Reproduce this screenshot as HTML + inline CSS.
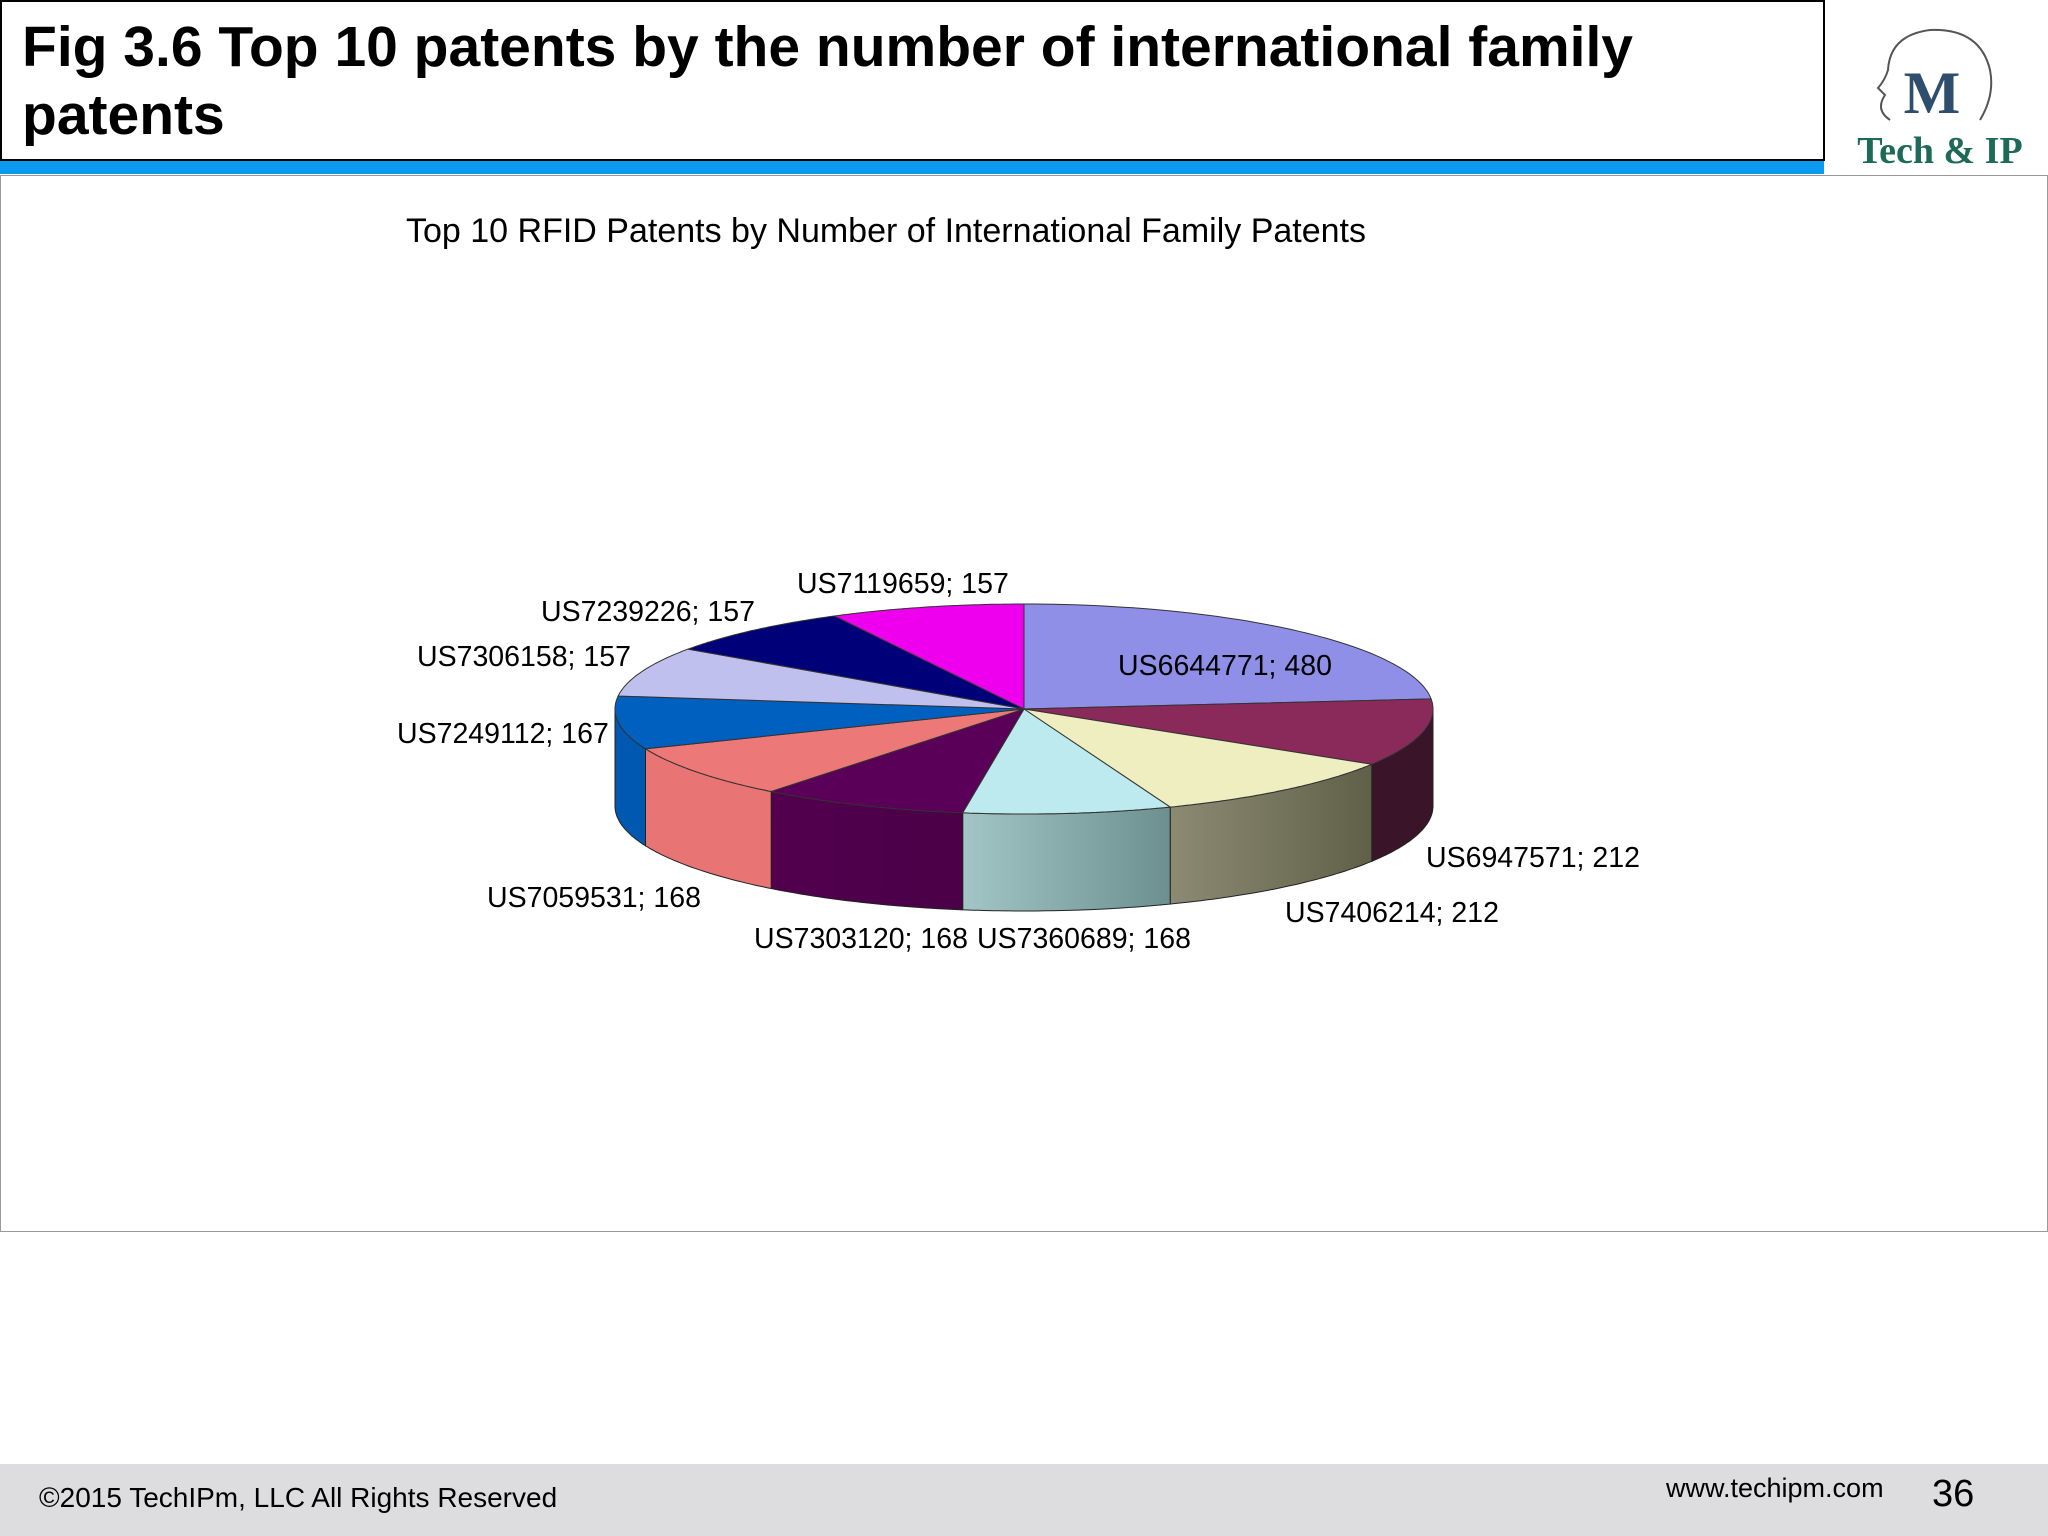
<!DOCTYPE html>
<html><head><meta charset="utf-8"><style>
body{margin:0;width:2048px;height:1536px;position:relative;background:#fff;font-family:"Liberation Sans",Arial,sans-serif;overflow:hidden}
.abs{position:absolute}
</style></head><body>
<div class="abs" style="left:0;top:0;width:1821px;height:157px;border:2px solid #000;box-sizing:content-box"></div>
<div class="abs" style="left:22px;top:13px;width:1790px;font-weight:bold;font-size:57px;line-height:68px;color:#000">Fig 3.6 Top 10 patents by the number of international family patents</div>
<div class="abs" style="left:0;top:161px;width:1824px;height:13px;background:#0a9af0"></div>
<div class="abs" style="left:1830px;top:10px;width:210px;height:160px">
<svg width="210" height="160" viewBox="0 0 210 160">
<path d="M60 110 Q45 100 55 85 L48 78 Q55 70 58 60 Q60 25 100 20 Q150 18 160 60 Q165 85 150 110" fill="none" stroke="#555" stroke-width="2"/>
<text x="102" y="103" text-anchor="middle" font-family="Liberation Serif,serif" font-weight="bold" font-size="60" fill="#2f4e6e">M</text>
<text x="110" y="153" text-anchor="middle" font-family="Liberation Serif,serif" font-weight="bold" font-size="38" fill="#1d6a58">Tech &amp; IP</text>
</svg></div>
<div class="abs" style="left:0;top:175px;width:2046px;height:1055px;border:1px solid #999"></div>
<div class="abs" style="left:406px;top:212px;font-size:34px;color:#000">Top 10 RFID Patents by Number of International Family Patents</div>
<svg class="abs" style="left:0;top:0" width="2048" height="1536" id="pie"></svg>
<div class="abs" style="left:0;top:1464px;width:2048px;height:72px;background:#dddcdf"></div>
<div class="abs" style="left:39px;top:1482px;font-size:28px">©2015 TechIPm, LLC All Rights Reserved</div>
<div class="abs" style="left:1666px;top:1473px;font-size:27px">www.techipm.com</div>
<div class="abs" style="left:1932px;top:1473px;font-size:38px">36</div>
<script>
const labels=["US6644771","US6947571","US7406214","US7360689","US7303120","US7059531","US7249112","US7306158","US7239226","US7119659"];
const values=[480,212,212,168,168,168,167,157,157,157];
const topColors=["#8f8fe8","#8a2a5a","#eeeec0","#bdeaee","#5a0058","#ec7878","#0060c0","#c0c0ee","#000078","#ee00ee"];
const sideA=["#7070c0","#3a1428","#8c8a72","#a2c6c6","#52004e","#e87474","#0058b0","#9090c0","#00005a","#b000b0"];
const sideB=["#6060b0","#3a1428","#606048","#6c9090","#4a0046","#e87474","#0058b0","#9090c0","#00005a","#b000b0"];
const labelPos=[[1118,665],[1426,857],[1285,912],[977,938],[754,938],[487,897],[397,733],[417,656],[541,611],[797,583]];
const cx=1024,cy=709,rx=409,ry=105,dep=97;
const svg=document.getElementById('pie');const NS="http://www.w3.org/2000/svg";
const total=values.reduce((a,b)=>a+b,0);
function pt(t,dy){return [cx+rx*Math.sin(t),cy-ry*Math.cos(t)+(dy||0)];}
function arc(a,b,dy,n){let s=[];for(let i=0;i<=n;i++){const t=a+(b-a)*i/n;s.push(pt(t,dy));}return s;}
let defs=document.createElementNS(NS,'defs');svg.appendChild(defs);
let ang=[0];values.forEach(v=>ang.push(ang[ang.length-1]+v/total*2*Math.PI));
values.forEach((v,i)=>{
  let a=Math.max(ang[i],Math.PI/2),b=Math.min(ang[i+1],3*Math.PI/2);
  if(b<=a)return;
  const g=document.createElementNS(NS,'linearGradient');g.id='g'+i;
  const p1=pt(a),p2=pt(b);
  g.setAttribute('gradientUnits','userSpaceOnUse');g.setAttribute('x1',Math.min(p1[0],p2[0]));g.setAttribute('x2',Math.max(p1[0],p2[0]));g.setAttribute('y1',0);g.setAttribute('y2',0);
  g.innerHTML=`<stop offset="0" stop-color="${sideA[i]}"/><stop offset="1" stop-color="${sideB[i]}"/>`;defs.appendChild(g);
  const top=arc(a,b,0,40),bot=arc(b,a,dep,40);
  const p=document.createElementNS(NS,'path');
  p.setAttribute('d','M'+top.concat(bot).map(q=>q[0].toFixed(1)+','+q[1].toFixed(1)).join('L')+'Z');
  p.setAttribute('fill','url(#g'+i+')');p.setAttribute('stroke','#222');p.setAttribute('stroke-width','1');
  
  
  svg.appendChild(p);
});
values.forEach((v,i)=>{
  const pts=arc(ang[i],ang[i+1],0,60);
  const p=document.createElementNS(NS,'path');
  p.setAttribute('d',`M${cx},${cy}L`+pts.map(q=>q[0].toFixed(1)+','+q[1].toFixed(1)).join('L')+'Z');
  p.setAttribute('fill',topColors[i]);p.setAttribute('stroke','#333');p.setAttribute('stroke-width','1');
  
  
  svg.appendChild(p);
});
labelPos.forEach((l,i)=>{
  const t=document.createElementNS(NS,'text');
  t.setAttribute('x',l[0]);t.setAttribute('y',l[1]+10);t.setAttribute('font-size','28.5');t.setAttribute('font-family','Liberation Sans, Arial, sans-serif');
  t.textContent=labels[i]+'; '+values[i];
  
  
  svg.appendChild(t);
});
</script>
</body></html>
